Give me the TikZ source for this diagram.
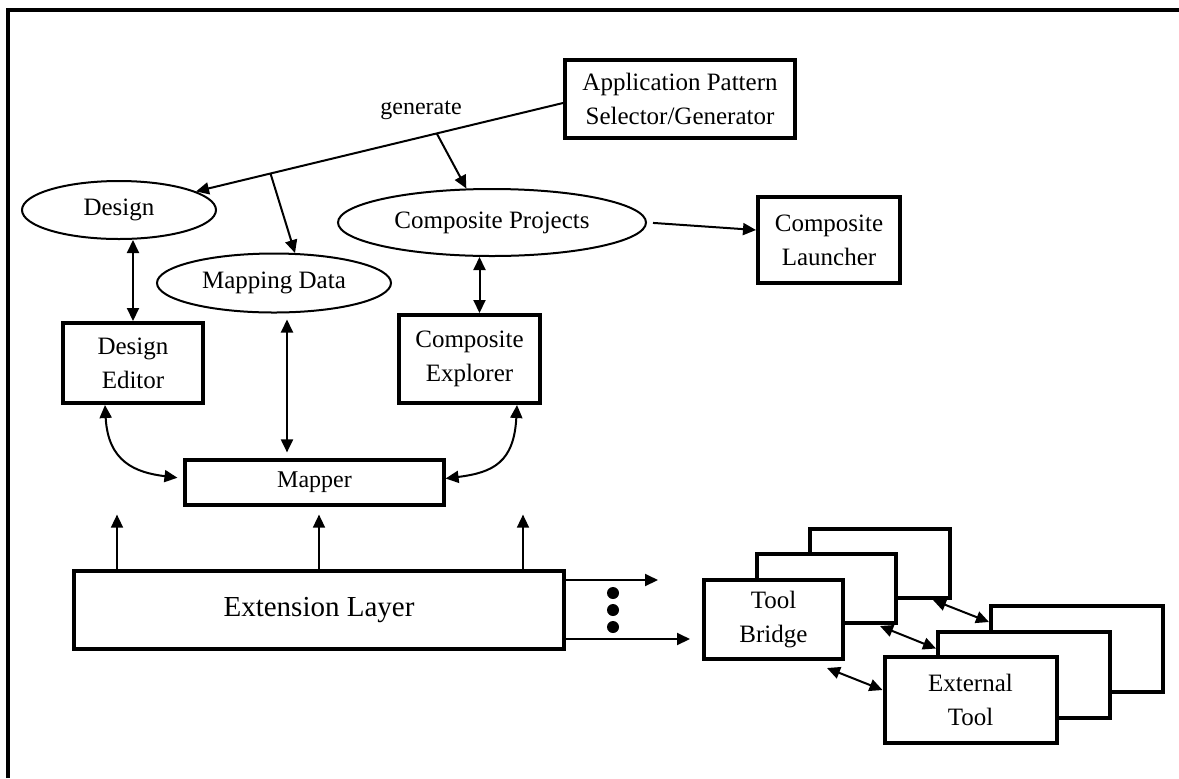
\documentclass[tikz,border=0pt]{standalone}
\usepackage{fontspec}
\setmainfont{Liberation Serif}
\usetikzlibrary{shapes.geometric,arrows.meta}
\begin{document}
\begin{tikzpicture}[x=0.5pt,y=-0.5pt]
  \tikzset{box node/.style={rectangle,draw=black,line width=2pt,fill=white,inner sep=0pt,align=center,font=\fontsize{12.5}{17}\selectfont},
    oval node/.style={ellipse,draw=black,line width=1pt,inner sep=0pt,font=\fontsize{12.5}{17}\selectfont},
    link/.style={line width=1pt,-{Triangle[length=6.5pt,width=6pt]}},
    both link/.style={line width=1pt,{Triangle[length=6.5pt,width=6pt]}-{Triangle[length=6.5pt,width=6pt]}}}
  \useasboundingbox (0,0) rectangle (1179,778);
  \draw[line width=2pt] (8,778) -- (8,10) -- (1179,10);
  % upper part
  \node[box node,minimum width=115pt,minimum height=39pt] (app) at (680,99) {Application Pattern\\Selector/Generator};
  \node[font=\fontsize{12}{14}\selectfont] (gen) at (421,110) {generate};
  \node[oval node,minimum width=97pt,minimum height=29pt] (design) at (119,210) {Design};
  \node[oval node,minimum width=117pt,minimum height=29.5pt] (mapdata) at (274,283) {Mapping Data};
  \node[oval node,minimum width=154pt,minimum height=33.5pt] (projects) at (492,222.5) {Composite Projects};
  \node[box node,minimum width=71pt,minimum height=43pt] (launcher) at (829,240) {Composite\\Launcher};
  \node[box node,minimum width=70pt,minimum height=40pt] (editor) at (133,363) {Design\\Editor};
  \node[box node,minimum width=70.5pt,minimum height=44pt] (explorer) at (469.5,359) {Composite\\Explorer};
  \node[box node,line width=1.6pt,minimum width=129.5pt,minimum height=22.5pt,font=\fontsize{12}{14}\selectfont] (mapper) at (314.5,482.5) {Mapper};
  \node[box node,minimum width=245pt,minimum height=39pt,font=\fontsize{14.5}{17}\selectfont] (ext) at (319,610) {Extension Layer};
  \draw[link] ([yshift=-2pt]app.west) -- coordinate[pos=0.344] (gcp) coordinate[pos=0.797] (gmd) (design);
  \draw[link] (gmd) -- (mapdata.55);
  \draw[link] (gcp) -- (projects.127);
  \draw[link,shorten <=3pt] (projects.east) -- ([yshift=5pt]launcher.west);
  \draw[both link] (editor.north) -- (editor.north |- design.south);
  \draw[both link,shorten <=3pt,shorten >=3pt] ([xshift=6.5pt]mapdata.south) -- ([xshift=6.5pt]mapdata.south |- mapper.north);
  \draw[both link] ([xshift=5pt]explorer.north) -- ([xshift=5pt]explorer.north |- projects.south);
  \draw[both link,shorten >=3pt] ([xshift=-14pt]editor.south) .. controls +(3,57) and +(-48,-6) .. ([yshift=2pt]mapper.west);
  \draw[both link] ([xshift=23.75pt]explorer.south) .. controls +(-3,57) and +(48,-6) .. ([yshift=2pt]mapper.east);
  \foreach \dx in {-101,0,102}
    \draw[link,line width=0.8pt,shorten >=4pt] ([xshift=\dx pt]ext.north) -- ([xshift=\dx pt]ext.north |- mapper.south);
  % tools
  \node[box node,minimum width=70pt,minimum height=34.5pt] (tb3) at (880,563.5) {};
  \node[box node,minimum width=69.5pt,minimum height=34.5pt] (tb2) at (826.5,588.5) {};
  \node[box node,minimum width=69.5pt,minimum height=39.5pt] (tb1) at (773.5,619.5) {Tool\\Bridge};
  \node[box node,minimum width=86pt,minimum height=43pt] (et3) at (1077,649) {};
  \node[box node,minimum width=86pt,minimum height=43pt] (et2) at (1024,674.5) {};
  \node[box node,minimum width=86pt,minimum height=43pt] (et1) at (970.5,700) {External\\Tool};
  \coordinate (out1) at (658,580);
  \coordinate (out2) at (690,639);
  \draw[link] ([yshift=15pt]ext.east) -- (out1);
  \draw[link] ([yshift=-14.5pt]ext.east) -- (out2);
  \foreach \y in {593,610,627}
    \fill (613,\y) circle (3pt);
  \draw[both link] ([shift={(-18,7)}]tb1.south east) -- ([yshift=5pt]et1.west);
  \draw[both link] ([shift={(-18,1)}]tb2.south east) -- ([yshift=13pt]et2.west);
  \draw[both link] ([shift={(-19,0)}]tb3.south east) -- ([yshift=13.5pt]et3.west);
\end{tikzpicture}
\end{document}
